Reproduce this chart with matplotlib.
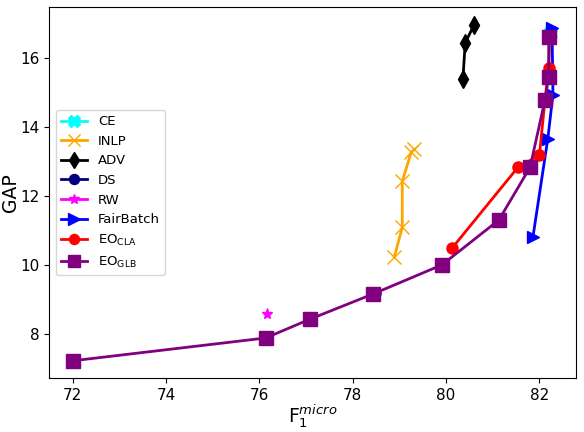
import matplotlib
matplotlib.use("Agg")
import matplotlib.pyplot as plt

# F1 micro / GAP values
ce_f1 = [82.22]
ce_gap = [16.72]

inlp_f1 = [78.89, 79.06, 79.06, 79.25, 79.32]
inlp_gap = [10.23, 11.09, 12.42, 13.26, 13.35]

adv_f1 = [80.36, 80.41, 80.60]
adv_gap = [15.40, 16.44, 16.96]

ds_f1 = [78.48]
ds_gap = [9.18]

rw_f1 = [76.17]
rw_gap = [8.58]

fb_f1 = [81.86, 82.18, 82.29, 82.27]
fb_gap = [10.80, 13.66, 14.94, 16.88]

cla_f1 = [80.13, 81.54, 82.00, 82.12, 82.20, 82.22]
cla_gap = [10.49, 12.83, 13.18, 14.80, 15.72, 16.65]

glb_f1 = [72.00, 76.13, 77.09, 78.44, 79.91, 81.13, 81.80, 82.12, 82.20, 82.20]
glb_gap = [7.22, 7.88, 8.43, 9.16, 10.00, 11.30, 12.83, 14.79, 15.46, 16.60]

fig, ax = plt.subplots(figsize=(5.84, 4.32), dpi=100)

ax.plot(ce_f1, ce_gap, color="cyan", marker="X", markersize=10, linewidth=2, label="CE")
ax.plot(inlp_f1, inlp_gap, color="orange", marker="x", markersize=10, linewidth=2, label="INLP")
ax.plot(adv_f1, adv_gap, color="black", marker="d", markersize=9, linewidth=2, label="ADV")
ax.plot(ds_f1, ds_gap, color="navy", marker="o", markersize=8, linewidth=2, label="DS")
ax.plot(rw_f1, rw_gap, color="magenta", marker="*", markersize=8, linewidth=2, label="RW")
ax.plot(fb_f1, fb_gap, color="blue", marker=">", markersize=9, linewidth=2, label="FairBatch")
ax.plot(cla_f1, cla_gap, color="red", marker="o", markersize=8, linewidth=2,
        label=r"EO$_{\mathregular{CLA}}$")
ax.plot(glb_f1, glb_gap, color="purple", marker="s", markersize=10, linewidth=2,
        label=r"EO$_{\mathregular{GLB}}$")

ax.set_xlim(71.49, 82.78)
ax.set_ylim(6.72, 17.48)
ax.set_xticks([72, 74, 76, 78, 80, 82])
ax.set_yticks([8, 10, 12, 14, 16])
ax.tick_params(labelsize=11)

ax.set_xlabel(r"F$_1^{micro}$", fontsize=13.5, labelpad=0)
ax.set_ylabel("GAP", fontsize=13.5, labelpad=0)

ax.legend(loc="center left", fontsize=9.5, markerscale=0.9)

fig.subplots_adjust(left=0.084, right=0.986, top=0.984, bottom=0.125)
fig.savefig("out.png", dpi=100)
